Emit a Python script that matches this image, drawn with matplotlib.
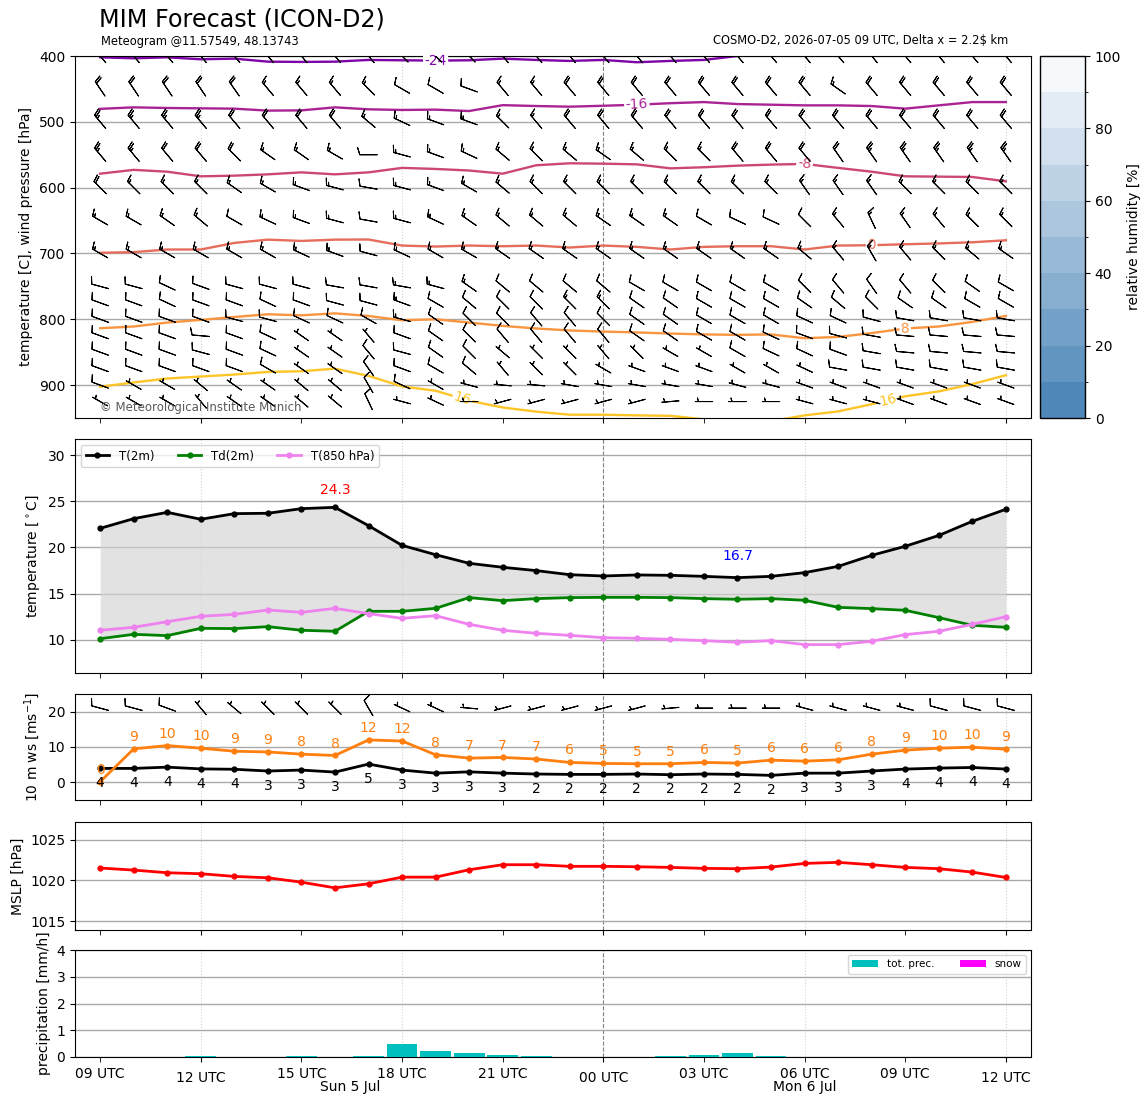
import numpy as np
import matplotlib
matplotlib.use("Agg")
import matplotlib.pyplot as plt
import matplotlib.colors as mcolors
import matplotlib.cm as cm
from matplotlib.ticker import FixedLocator, FixedFormatter
import matplotlib.transforms as mtrans

# ---------------- data ----------------
hours = list(range(28))  # 09 UTC 5 Jul ... 12 UTC 6 Jul
major_hours = [3, 15, 27]
major_labels = ["12 UTC", "00 UTC", "12 UTC"]
minor_hours = [0, 6, 9, 12, 18, 21, 24]
minor_labels = ["09 UTC", "15 UTC", "18 UTC", "21 UTC", "03 UTC", "06 UTC", "09 UTC"]
grid_hours = [3, 9, 21, 27]
midnight_hour = 15
day_labels = ["Sun 5 Jul", "Mon 6 Jul"]
day_label_hours = [7.45, 21.0]

# isotherm positions (hPa) per hour
iso_levels = [-24, -16, -8, 0, 8, 16]
iso_m24 = [402, 403.5, 402, 405, 404, 408.6, 409, 408.6, 406, 406.5, 407, 406.5, 404, 406,
           407.5, 406, 409.5, 407.5, 406, 400, 396, 394, 393, 392, 392, 392, 392, 392]
iso_m16 = [480.3, 478, 479, 479.5, 480, 483, 482.6, 478, 481, 482, 481.5, 483.6, 474.7, 476,
           477, 475.6, 474, 471.7, 470, 473, 474, 475, 475, 476, 480, 475, 470, 470]
iso_m8 = [578.8, 573, 575.8, 582.8, 581.8, 579.8, 576.8, 579.8, 576.8, 570, 571.6, 574, 578.8, 566,
          563, 563.6, 564.6, 570.7, 569, 566.6, 565, 564, 570, 575.8, 582.8, 583.3, 583.8, 590.4]
iso_0 = [699, 698, 694, 694, 684, 679, 681, 679, 678.8, 688, 689.5, 688, 689, 688,
         691, 688, 690, 694, 690, 689, 689, 694, 688, 687.5, 686, 684.8, 683, 680]
iso_8 = [813.6, 811, 805, 801, 796.5, 792.4, 794, 791, 795, 801.5, 800, 805, 810, 814,
         817, 818.7, 820, 821.7, 823, 823.7, 823, 828.8, 826.8, 821, 814, 811, 804, 795]
iso_16 = [902.5, 896, 890, 887, 884, 880, 879, 875, 886, 902, 908.6, 923.7, 934, 940.4,
          945, 945, 946, 946.7, 952, 957, 955, 946, 940, 929, 917, 909.6, 898.5, 885]
iso_label_hours = [[10.0], [16.0], [21.0], [23.0], [24.0], [10.8, 23.5]]

# wind barbs on pressure levels
levels_hpa = [400, 450, 500, 550, 600, 650, 700, 750, 775, 800, 825, 850, 875, 900, 925]
wind_dir = [
 [320,320,320,320,320,320,320,320,320,315,315,315,320,320,320,320,320,320,320,320,320,320,320,320,320,320,320,320],
 [326,326,326,326,325,320,320,320,315,300,300,290,320,320,320,320,320,320,320,320,320,320,305,320,320,320,320,320],
 [320,320,320,320,320,320,320,320,310,295,290,290,315,320,320,320,320,320,320,320,320,320,320,320,320,320,320,320],
 [320,320,320,320,315,305,305,300,270,285,290,295,310,315,310,305,310,315,315,320,320,320,325,325,325,325,325,325],
 [315,315,315,315,305,300,290,285,280,285,290,300,310,315,315,315,315,315,315,315,315,325,325,325,315,315,315,315],
 [300,300,305,310,300,295,290,285,280,285,295,305,310,310,310,305,305,305,300,295,295,315,320,335,325,320,315,315],
 [300,300,300,300,300,300,295,290,285,295,300,300,305,305,305,305,305,305,305,305,305,310,320,330,320,315,310,305],
 [285,285,295,290,285,285,285,280,280,280,285,305,310,310,310,310,300,300,300,300,300,315,320,325,320,315,305,300],
 [290,290,295,290,290,295,290,285,285,290,300,310,315,315,315,315,305,305,300,300,300,305,310,315,305,305,300,300],
 [290,290,290,290,285,285,295,295,300,285,305,315,315,320,320,315,305,305,300,300,300,295,295,285,280,280,280,280],
 [290,290,290,275,290,295,305,305,320,290,305,315,320,320,320,320,305,305,300,300,295,290,285,280,275,275,275,275],
 [290,290,290,285,290,295,305,305,320,285,305,315,310,315,315,320,315,300,300,300,295,295,290,280,275,275,275,275],
 [290,290,290,290,290,300,305,305,325,290,300,310,320,315,315,300,290,290,290,300,300,295,280,280,280,280,280,280],
 [290,300,300,310,305,305,310,310,330,295,300,285,275,275,280,280,280,280,280,285,285,290,290,290,290,290,290,290],
 [300,300,300,320,305,305,310,310,335,285,295,270,255,255,255,255,255,265,270,270,270,285,285,285,290,290,290,290],
]
wind_spd = [
 [25,25,25,25,25,25,25,25,25,25,25,25,25,25,25,25,25,25,25,25,25,25,25,25,25,25,25,25],
 [20,20,20,20,20,15,15,15,15,10,10,10,15,15,20,20,20,20,20,20,20,20,15,20,20,20,20,20],
 [25,25,25,25,20,20,20,20,15,15,15,15,15,15,20,20,20,20,20,20,20,20,20,20,20,20,20,20],
 [25,25,20,20,20,15,15,15,10,15,15,15,15,15,15,15,15,15,15,20,20,20,20,25,25,25,25,25],
 [20,15,15,15,15,15,15,15,10,15,15,15,15,15,15,15,15,15,15,15,15,15,15,15,15,15,15,15],
 [15,15,15,15,10,15,15,15,10,15,15,15,15,15,15,15,15,15,10,10,10,10,15,15,15,15,15,15],
 [15,15,15,15,15,15,15,15,10,15,15,15,15,15,15,15,15,15,15,15,15,15,15,15,15,15,15,15],
 [10,10,10,10,10,10,10,10,10,15,15,15,10,10,10,10,10,10,10,10,10,10,10,10,10,10,10,10],
 [10,10,10,10,10,10,10,10,10,15,10,10,10,10,15,15,10,10,10,10,10,10,10,10,10,10,10,10],
 [10,10,10,10,10,10,10,10,10,15,10,10,10,10,10,10,10,10,10,10,10,10,10,10,10,10,10,10],
 [10,10,10,10,10,10,5,5,5,10,10,10,10,10,10,10,10,10,10,10,10,10,10,10,10,10,10,10],
 [10,10,10,10,10,10,5,5,10,10,10,10,5,5,5,5,5,5,5,10,10,10,10,10,10,10,10,10],
 [10,10,10,10,10,10,5,5,10,10,10,10,5,5,5,5,5,5,5,5,5,5,10,10,10,10,10,10],
 [10,5,5,5,5,5,5,5,10,10,5,5,5,5,5,5,5,5,5,5,5,5,5,5,5,5,5,5],
 [5,5,5,5,5,5,5,5,10,5,5,5,5,5,5,5,5,5,5,5,5,5,5,5,5,5,5,5],
]

# surface
t2m = [22.07, 23.12, 23.8, 23.05, 23.66, 23.7, 24.2, 24.34, 22.36, 20.23, 19.22, 18.29, 17.86, 17.5,
       17.06, 16.92, 17.03, 16.99, 16.88, 16.74, 16.88, 17.28, 17.96, 19.15, 20.13, 21.3, 22.83, 24.13]
td2m = [10.14, 10.61, 10.47, 11.26, 11.23, 11.44, 11.05, 10.94, 13.1, 13.1, 13.42, 14.58, 14.25, 14.47,
        14.58, 14.61, 14.61, 14.58, 14.47, 14.4, 14.47, 14.29, 13.53, 13.39, 13.21, 12.42, 11.59, 11.37]
t850 = [11.05, 11.37, 11.98, 12.56, 12.77, 13.24, 12.99, 13.42, 12.85, 12.34, 12.63, 11.69, 11.05, 10.72,
        10.5, 10.25, 10.18, 10.07, 9.93, 9.75, 9.93, 9.5, 9.5, 9.86, 10.58, 10.94, 11.69, 12.52]

ws10 = [3.94, 3.94, 4.3, 3.8, 3.7, 3.2, 3.47, 2.9, 5.16, 3.47, 2.6, 2.97, 2.6, 2.35,
        2.25, 2.25, 2.35, 2.16, 2.35, 2.25, 1.97, 2.6, 2.6, 3.2, 3.75, 4.03, 4.2, 3.75]
gust10 = [0.17, 9.47, 10.4, 9.66, 8.8, 8.6, 7.97, 7.6, 12.0, 11.7, 7.8, 6.85, 7.04, 6.6,
          5.63, 5.35, 5.26, 5.26, 5.63, 5.45, 6.28, 6.0, 6.37, 7.97, 9.1, 9.66, 9.94, 9.38]
wind10_dir = [285,285,290,320,310,315,315,315,330,295,295,275,255,255,255,255,255,265,270,270,270,285,285,285,285,285,285,285]
wind10_spd = [10,10,10,5,5,5,5,5,10,5,5,5,5,5,5,5,5,5,5,5,5,5,5,5,5,10,10,10]

mslp = [1021.53, 1021.28, 1020.95, 1020.83, 1020.5, 1020.33, 1019.79, 1019.09, 1019.59, 1020.41,
        1020.41, 1021.32, 1021.94, 1021.94, 1021.74, 1021.74, 1021.69, 1021.61, 1021.49, 1021.45,
        1021.65, 1022.1, 1022.23, 1021.94, 1021.61, 1021.45, 1021.03, 1020.37]

precip = [0, 0, 0, 0.04, 0, 0, 0.04, 0, 0.04, 0.49, 0.22, 0.15, 0.075, 0.04,
          0, 0, 0, 0.04, 0.075, 0.15, 0.04, 0, 0, 0, 0, 0, 0, 0]
snow = [0] * 28

rh_levels = [0, 10, 20, 30, 40, 50, 60, 70, 80, 90, 100]

# ---------------- figure ----------------
W, H = 1148, 1105
fig = plt.figure(figsize=(W / 100, H / 100), dpi=100)


def box(l, t, r, b):
    return [l / W, 1 - b / H, (r - l) / W, (b - t) / H]


ax1 = fig.add_axes(box(75, 56, 1031, 418))
ax2 = fig.add_axes(box(75, 439, 1031, 673), sharex=ax1)
ax3 = fig.add_axes(box(75, 694, 1031, 800), sharex=ax1)
ax4 = fig.add_axes(box(75, 822, 1031, 930), sharex=ax1)
ax5 = fig.add_axes(box(75, 950, 1031, 1057), sharex=ax1)
cax = fig.add_axes(box(1040, 56, 1085, 418))
axes = [ax1, ax2, ax3, ax4, ax5]

hrs = np.array(hours, dtype=float)

# ---- panel 1: isotherms + barbs ----
iso_data = [iso_m24, iso_m16, iso_m8, iso_0, iso_8, iso_16]
norm_t = mcolors.Normalize(vmin=-40, vmax=24)
plasma = plt.get_cmap('plasma')
px_per_h = 956 / 28.5
px_per_hpa = 0.66
for lev, pdat, lab_h in zip(iso_levels, iso_data, iso_label_hours):
    col = plasma(norm_t(lev))
    ax1.plot(hrs, pdat, color=col, lw=1.7, zorder=2)
    for lh in lab_h:
        py = np.interp(lh, hrs, pdat)
        i0 = int(np.floor(lh))
        dp = pdat[min(i0 + 1, 27)] - pdat[i0]
        rot = -np.degrees(np.arctan2(dp * px_per_hpa, px_per_h))
        ax1.text(lh, py, f"{lev:d}", color=col, fontsize=10, ha='center', va='center',
                 rotation=rot, zorder=3,
                 bbox=dict(facecolor='white', edgecolor='none', pad=1.0))

XX, YY = np.meshgrid(hrs, np.array(levels_hpa, dtype=float))
D = np.radians(np.array(wind_dir, dtype=float))
S = np.array(wind_spd, dtype=float)
U = -S * np.sin(D)
V = -S * np.cos(D)
ax1.barbs(XX, YY, U, V, length=5, pivot='middle', linewidth=0.75, color='k', zorder=4)

ax1.set_ylim(950, 400)
ax1.set_yticks([400, 500, 600, 700, 800, 900])
ax1.set_ylabel("temperature [C], wind pressure [hPa]", fontsize=10)
ax1.text(0.026, 0.012, "\u00a9 Meteorological Institute Munich", transform=ax1.transAxes,
         fontsize=8.5, color='0.35', ha='left', va='bottom', zorder=5)

# colorbar (steelblue -> white, 10 bands)
rh_base = mcolors.LinearSegmentedColormap.from_list('rh', ['steelblue', 'white'])
rh_cols = [rh_base((a + b) / 2 / 100.0) for a, b in zip(rh_levels[:-1], rh_levels[1:])]
rh_cmap = mcolors.ListedColormap(rh_cols)
rh_norm = mcolors.BoundaryNorm(rh_levels, rh_cmap.N)
cb = fig.colorbar(cm.ScalarMappable(norm=rh_norm, cmap=rh_cmap), cax=cax,
                  ticks=[0, 20, 40, 60, 80, 100])
cb.set_label("relative humidity [%]", fontsize=10)
cb.ax.tick_params(labelsize=10)
cb.outline.set_linewidth(1.0)

# ---- panel 2: temperature ----
ax2.fill_between(hrs, t2m, td2m, color='lightgray', alpha=0.65, lw=0, zorder=1)
ax2.plot(hrs, t2m, color='k', marker='.', ms=7, lw=2, label='T(2m)', zorder=3)
ax2.plot(hrs, td2m, color='green', marker='.', ms=7, lw=2, label='Td(2m)', zorder=3)
ax2.plot(hrs, t850, color='violet', marker='.', ms=7, lw=2, label='T(850 hPa)', zorder=3)
imax = int(np.argmax(t2m))
imin = int(np.argmin(t2m))
ax2.text(hrs[imax], t2m[imax] + 1.9, f"{t2m[imax]:.1f}", color='red', fontsize=10,
         ha='center', va='center')
ax2.text(hrs[imin], t2m[imin] + 2.35, f"{t2m[imin]:.1f}", color='blue', fontsize=10,
         ha='center', va='center')
ax2.set_ylim(6.43, 31.73)
ax2.set_yticks([10, 15, 20, 25, 30])
ax2.set_ylabel("temperature [$^\\circ$C]", fontsize=10)
ax2.legend(loc='upper left', ncol=3, fontsize=8.5, framealpha=0.8)

# ---- panel 3: 10 m wind ----
ax3.plot(hrs, ws10, color='k', marker='.', ms=7, lw=2, zorder=3)
ax3.plot(hrs, gust10, color='C1', marker='.', ms=7, lw=2, zorder=3)
for h, v in zip(hrs, ws10):
    ax3.text(h, v - 2.2, f"{v:.0f}", color='k', fontsize=10, ha='center', va='top')
for h, g in zip(hrs, gust10):
    ax3.text(h, g + 1.4, f"{g:.0f}", color='C1', fontsize=10, ha='center', va='bottom')
D10 = np.radians(np.array(wind10_dir, dtype=float))
S10 = np.array(wind10_spd, dtype=float)
ax3.barbs(hrs, np.full(28, 21.0), -S10 * np.sin(D10), -S10 * np.cos(D10), length=5,
          pivot='middle', linewidth=0.75, color='k', zorder=4)
ax3.set_ylim(-5, 25)
ax3.set_yticks([0, 10, 20])
ax3.set_ylabel("10 m ws [ms$^{-1}$]", fontsize=10)

# ---- panel 4: MSLP ----
ax4.plot(hrs, mslp, color='red', marker='.', ms=7, lw=2, zorder=3)
ax4.set_ylim(1013.9, 1027.2)
ax4.set_yticks([1015, 1020, 1025])
ax4.set_ylabel("MSLP [hPa]", fontsize=10)

# ---- panel 5: precipitation ----
ax5.bar(hrs, precip, width=0.92, color='c', label='tot. prec.', zorder=3)
ax5.bar(hrs, snow, width=0.92, color='magenta', label='snow', zorder=3)
ax5.set_ylim(0, 4)
ax5.set_yticks([0, 1, 2, 3, 4])
ax5.set_ylabel("precipitation [mm/h]", fontsize=10)
ax5.legend(loc='upper right', ncol=2, fontsize=7.5, handlelength=2.5, columnspacing=2.5)

# ---- common x axis ----
ax5.set_xlim(-0.75, 27.75)
ax5.xaxis.set_major_locator(FixedLocator(major_hours))
ax5.xaxis.set_major_formatter(FixedFormatter(major_labels))
ax5.xaxis.set_minor_locator(FixedLocator(minor_hours))
ax5.xaxis.set_minor_formatter(FixedFormatter(minor_labels))
for ax in axes:
    ax.tick_params(axis='x', which='major', length=3.5, pad=6.5, labelsize=10)
    ax.tick_params(axis='x', which='minor', length=3.5, pad=3.5, labelsize=10)
    ax.tick_params(axis='y', labelsize=10)
    ax.yaxis.grid(True, color='darkgray', lw=1.0)
    ax.set_axisbelow(True)
    for gh in grid_hours:
        ax.axvline(gh, color='lightgray', ls=':', lw=0.8, zorder=0.5)
    ax.axvline(midnight_hour, color='gray', ls='--', lw=0.8, zorder=0.5)
for ax in axes[:-1]:
    ax.tick_params(axis='x', which='both', labelbottom=False)

trans = mtrans.blended_transform_factory(ax5.transData, ax5.transAxes)
for lab, dh in zip(day_labels, day_label_hours):
    ax5.text(dh, -0.285, lab, transform=trans, ha='center', va='center', fontsize=10)

# ---- titles ----
fig.text(99 / W, 1 - 20 / H, "MIM Forecast (ICON-D2)", fontsize=17.2, ha='left', va='center')
fig.text(101 / W, 1 - 41 / H, "Meteogram @11.57549, 48.13743", fontsize=8.3, ha='left', va='center')
fig.text(1008 / W, 1 - 41 / H, "COSMO-D2, 2026-07-05 09 UTC, Delta x = 2.2\\$ km", fontsize=8.3,
         ha='right', va='center')

fig.savefig("out.png", dpi=100)
